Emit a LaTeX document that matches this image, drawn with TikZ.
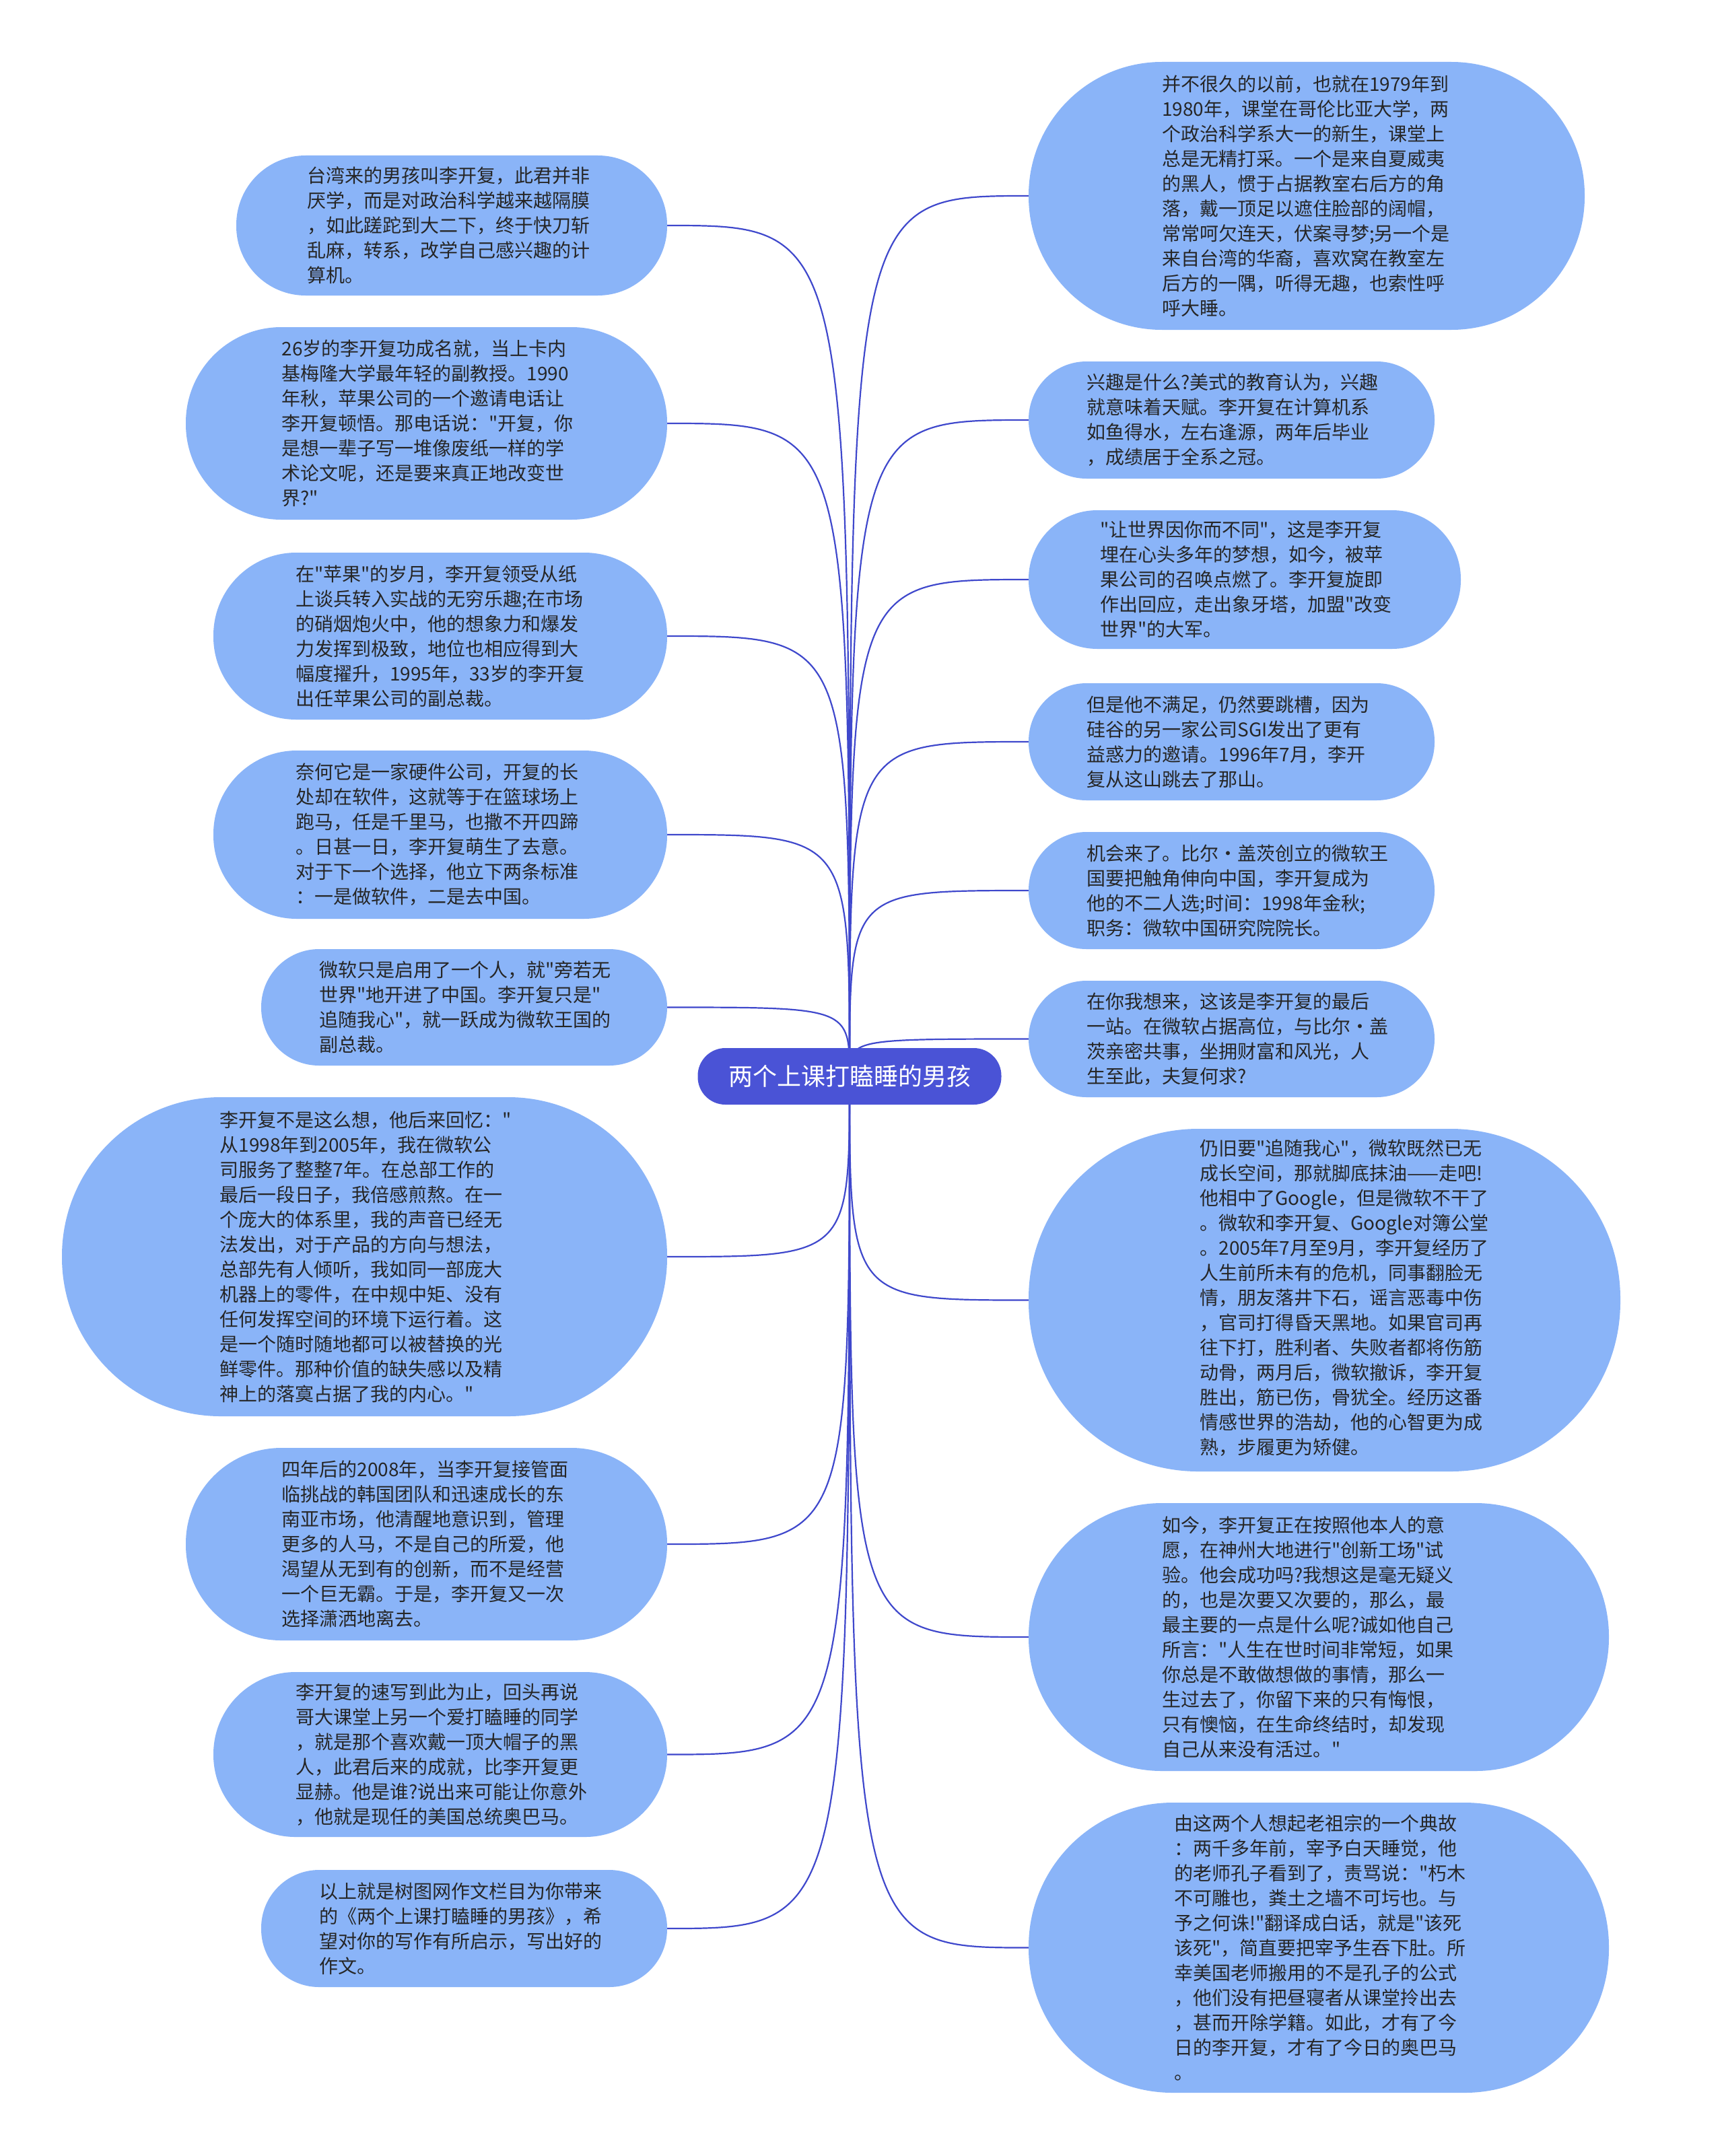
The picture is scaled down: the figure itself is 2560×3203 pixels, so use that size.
\documentclass[tikz,border=0pt]{standalone}
\usepackage{fontspec}
\setmainfont{Noto Sans CJK SC}[Ligatures=TeXOff]
\usetikzlibrary{backgrounds}
\definecolor{leafblue}{RGB}{138,180,248}
\definecolor{rootblue}{RGB}{74,83,214}
\definecolor{linkblue}{RGB}{63,72,204}
\definecolor{txtgray}{RGB}{38,38,38}
\tikzset{
  leaf/.style n args={3}{fill=leafblue, text=txtgray, minimum width=#1, minimum height=#2,
    rounded corners=#3, inner sep=0pt, text width=430pt, align=left,
    font=\fontsize{28}{37}\selectfont},
  rootnode/.style={fill=rootblue, text=white, minimum width=451pt, minimum height=84pt,
    rounded corners=41pt, inner sep=0pt, font=\fontsize{36}{40}\selectfont},
  conn/.style={draw=linkblue, line width=2.2pt}
}
\begin{document}
\begin{tikzpicture}[x=1pt,y=-1pt]
\useasboundingbox (0,0) rectangle (2560,3203);
\node[rootnode] (c) at (1262,1599) {两个上课打瞌睡的男孩};
% left column
\node[leaf={640pt}{208pt}{103pt}] (l1) at (671,335) {台湾来的男孩叫李开复，此君并非\\厌学，而是对政治科学越来越隔膜\\，如此蹉跎到大二下，终于快刀斩\\乱麻，转系，改学自己感兴趣的计\\算机。};
\node[leaf={715pt}{286pt}{142pt}] (l2) at (633.5,629) {26岁的李开复功成名就，当上卡内\\基梅隆大学最年轻的副教授。1990\\年秋，苹果公司的一个邀请电话让\\李开复顿悟。那电话说："开复，你\\是想一辈子写一堆像废纸一样的学\\术论文呢，还是要来真正地改变世\\界?"};
\node[leaf={674pt}{248pt}{123pt}] (l3) at (654,945) {在"苹果"的岁月，李开复领受从纸\\上谈兵转入实战的无穷乐趣;在市场\\的硝烟炮火中，他的想象力和爆发\\力发挥到极致，地位也相应得到大\\幅度擢升，1995年，33岁的李开复\\出任苹果公司的副总裁。};
\node[leaf={674pt}{250pt}{124pt}] (l4) at (654,1240) {奈何它是一家硬件公司，开复的长\\处却在软件，这就等于在篮球场上\\跑马，任是千里马，也撒不开四蹄\\。日甚一日，李开复萌生了去意。\\对于下一个选择，他立下两条标准\\：一是做软件，二是去中国。};
\node[leaf={603pt}{173pt}{86pt}] (l5) at (689.5,1496.5) {微软只是启用了一个人，就"旁若无\\世界"地开进了中国。李开复只是"\\追随我心"，就一跃成为微软王国的\\副总裁。};
\node[leaf={899pt}{474pt}{236pt}] (l6) at (541.5,1867) {李开复不是这么想，他后来回忆："\\从1998年到2005年，我在微软公\\司服务了整整7年。在总部工作的\\最后一段日子，我倍感煎熬。在一\\个庞大的体系里，我的声音已经无\\法发出，对于产品的方向与想法，\\总部先有人倾听，我如同一部庞大\\机器上的零件，在中规中矩、没有\\任何发挥空间的环境下运行着。这\\是一个随时随地都可以被替换的光\\鲜零件。那种价值的缺失感以及精\\神上的落寞占据了我的内心。"};
\node[leaf={715pt}{286pt}{142pt}] (l7) at (633.5,2294) {四年后的2008年，当李开复接管面\\临挑战的韩国团队和迅速成长的东\\南亚市场，他清醒地意识到，管理\\更多的人马，不是自己的所爱，他\\渴望从无到有的创新，而不是经营\\一个巨无霸。于是，李开复又一次\\选择潇洒地离去。};
\node[leaf={674pt}{245pt}{122pt}] (l8) at (654,2606.5) {李开复的速写到此为止，回头再说\\哥大课堂上另一个爱打瞌睡的同学\\，就是那个喜欢戴一顶大帽子的黑\\人，此君后来的成就，比李开复更\\显赫。他是谁?说出来可能让你意外\\，他就是现任的美国总统奥巴马。};
\node[leaf={603pt}{174pt}{86pt}] (l9) at (689.5,2865) {以上就是树图网作文栏目为你带来\\的《两个上课打瞌睡的男孩》，希\\望对你的写作有所启示，写出好的\\作文。};
% right column
\node[leaf={826pt}{398pt}{198pt}] (r1) at (1941,291) {并不很久的以前，也就在1979年到\\1980年，课堂在哥伦比亚大学，两\\个政治科学系大一的新生，课堂上\\总是无精打采。一个是来自夏威夷\\的黑人，惯于占据教室右后方的角\\落，戴一顶足以遮住脸部的阔帽，\\常常呵欠连天，伏案寻梦;另一个是\\来自台湾的华裔，喜欢窝在教室左\\后方的一隅，听得无趣，也索性呼\\呼大睡。};
\node[leaf={603pt}{174pt}{86pt}] (r2) at (1829.5,624) {兴趣是什么?美式的教育认为，兴趣\\就意味着天赋。李开复在计算机系\\如鱼得水，左右逢源，两年后毕业\\，成绩居于全系之冠。};
\node[leaf={642pt}{206pt}{102pt}] (r3) at (1849,861) {"让世界因你而不同"，这是李开复\\埋在心头多年的梦想，如今，被苹\\果公司的召唤点燃了。李开复旋即\\作出回应，走出象牙塔，加盟"改变\\世界"的大军。};
\node[leaf={603pt}{174pt}{86pt}] (r4) at (1829.5,1102) {但是他不满足，仍然要跳槽，因为\\硅谷的另一家公司SGI发出了更有\\益惑力的邀请。1996年7月，李开\\复从这山跳去了那山。};
\node[leaf={603pt}{174pt}{86pt}] (r5) at (1829.5,1323) {机会来了。比尔·盖茨创立的微软王\\国要把触角伸向中国，李开复成为\\他的不二人选;时间：1998年金秋;\\职务：微软中国研究院院长。};
\node[leaf={603pt}{173pt}{86pt}] (r6) at (1829.5,1543.5) {在你我想来，这该是李开复的最后\\一站。在微软占据高位，与比尔·盖\\茨亲密共事，坐拥财富和风光，人\\生至此，夫复何求?};
\node[leaf={879pt}{509pt}{252pt}, text width=490pt] (r7) at (1967.5,1931.5) {\hspace*{60pt}\begin{tabular}{@{}l@{}}仍旧要"追随我心"，微软既然已无\\成长空间，那就脚底抹油——走吧!\\他相中了Google，但是微软不干了\\。微软和李开复、Google对簿公堂\\。2005年7月至9月，李开复经历了\\人生前所未有的危机，同事翻脸无\\情，朋友落井下石，谣言恶毒中伤\\，官司打得昏天黑地。如果官司再\\往下打，胜利者、失败者都将伤筋\\动骨，两月后，微软撤诉，李开复\\胜出，筋已伤，骨犹全。经历这番\\情感世界的浩劫，他的心智更为成\\熟，步履更为矫健。\end{tabular}};
\node[leaf={862pt}{398pt}{198pt}, text width=466pt] (r8) at (1959,2432) {如今，李开复正在按照他本人的意\\愿，在神州大地进行"创新工场"试\\验。他会成功吗?我想这是毫无疑义\\的，也是次要又次要的，那么，最\\最主要的一点是什么呢?诚如他自己\\所言："人生在世时间非常短，如果\\你总是不敢做想做的事情，那么一\\生过去了，你留下来的只有悔恨，\\只有懊恼，在生命终结时，却发现\\自己从来没有活过。"};
\node[leaf={862pt}{431pt}{214pt}] (r9) at (1959,2893.5) {由这两个人想起老祖宗的一个典故\\：两千多年前，宰予白天睡觉，他\\的老师孔子看到了，责骂说："朽木\\不可雕也，粪土之墙不可圬也。与\\予之何诛!"翻译成白话，就是"该死\\该死"，简直要把宰予生吞下肚。所\\幸美国老师搬用的不是孔子的公式\\，他们没有把昼寝者从课堂拎出去\\，甚而开除学籍。如此，才有了今\\日的李开复，才有了今日的奥巴马\\。};
\begin{scope}[on background layer]
\fill[white] (0,0) rectangle (2560,3203);
\foreach \n in {l1,l2,l3,l4,l5,l6,l7,l8,l9}
  \draw[conn] (c.center) .. controls (c.center |- \n.east) .. (\n.east);
\foreach \n in {r1,r2,r3,r4,r5,r6,r7,r8,r9}
  \draw[conn] (c.center) .. controls (c.center |- \n.west) .. (\n.west);
\end{scope}
\end{tikzpicture}
\end{document}
